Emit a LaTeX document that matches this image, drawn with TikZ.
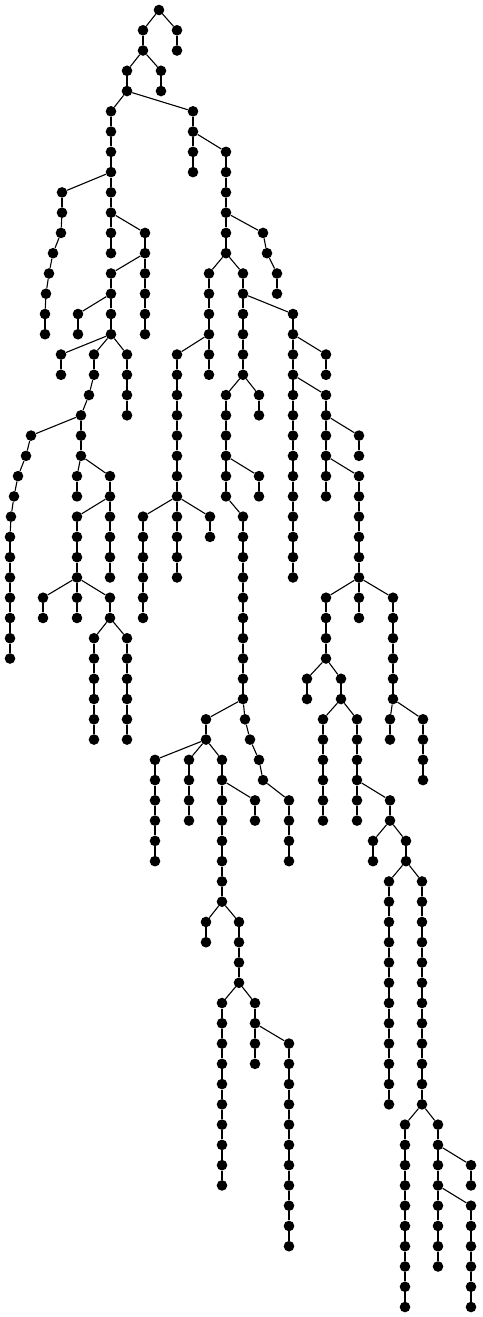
\documentclass[tikz,border=0pt]{standalone}
\usepackage{tikz}
\tikzstyle{vertex} = [circle, fill=black, inner sep=0pt, minimum size=10.6pt]
\tikzstyle{edge} = [line width=1.1pt]

\begin{document}
\begin{tikzpicture}[x=1pt,y=-1pt]
  \useasboundingbox (0,0) rectangle (482,1317);
  \node (v0x159) [vertex] at (159,10) {};
  % level / {column/parent column, ...}
  \foreach \l/\kids in {
    1/{143/159,177/159},
    2/{143/143,177/177},
    3/{127/143,161/143},
    4/{127/127,161/161},
    5/{111/127,193/127},
    6/{111/111,193/193},
    7/{111/111,193/193,226/193},
    8/{111/111,193/193,226/226},
    9/{62/111,111/111,226/226},
    10/{62/62,111/111,226/226},
    11/{61/62,111/111,145/111,226/226,263/226},
    12/{53/61,111/111,145/145,226/226,267/263},
    13/{49/53,111/145,145/145,209/226,243/226,277/267},
    14/{46/49,111/111,145/145,209/209,243/243,277/277},
    15/{45/46,78/111,111/111,145/145,209/209,243/243,293/243},
    16/{45/45,78/78,111/111,145/145,209/209,243/243,293/293},
    17/{61/111,94/111,127/111,177/209,209/209,243/243,293/293,326/293},
    18/{61/61,94/94,127/127,177/177,209/209,243/243,293/293,326/326},
    19/{89/94,127/127,177/177,226/243,259/243,293/293,326/293},
    20/{81/89,127/127,177/177,226/226,259/259,293/293,326/326},
    21/{31/81,81/81,177/177,226/226,293/293,326/326,359/326},
    22/{26/31,81/81,177/177,226/226,293/293,326/326,359/359},
    23/{18/26,77/81,110/81,177/177,226/226,259/226,293/293,326/326,359/326},
    24/{14/18,77/77,110/110,177/177,226/226,259/259,293/293,326/326,359/359},
    25/{11/14,77/110,110/110,143/177,177/177,210/177,243/226,293/293,359/359},
    26/{10/11,77/77,110/110,143/143,177/177,210/210,243/243,293/293,359/359},
    27/{10/10,77/77,110/110,143/143,177/177,243/243,293/293,359/359},
    28/{10/10,77/77,110/110,143/143,177/177,243/243,293/293,359/359},
    29/{10/10,43/77,77/77,110/77,143/143,243/243,326/359,359/359,393/359},
    30/{10/10,43/43,77/77,110/110,143/143,243/243,326/326,359/359,393/393},
    31/{10/10,94/110,127/110,243/243,326/326,393/393},
    32/{10/10,94/94,127/127,243/243,326/326,393/393},
    33/{94/94,127/127,243/243,307/326,341/326,393/393},
    34/{94/94,127/127,243/243,307/307,341/341,393/393},
    35/{94/94,127/127,206/243,245/243,323/341,357/341,390/393,423/393},
    36/{94/94,127/127,206/206,250/245,323/323,357/357,390/390,423/423},
    37/{155/206,189/206,222/206,259/250,323/323,357/357,423/423},
    38/{155/155,189/189,222/222,263/259,323/323,357/357,423/423},
    39/{155/155,189/189,222/222,255/222,289/263,323/323,357/357,390/357},
    40/{155/155,189/189,222/222,255/255,289/289,323/323,357/357,390/390},
    41/{155/155,222/222,289/289,373/390,406/390},
    42/{155/155,222/222,289/289,373/373,406/406},
    43/{222/222,389/406,422/406},
    44/{222/222,389/389,422/422},
    45/{206/222,239/222,389/389,422/422},
    46/{206/206,239/239,389/389,422/422},
    47/{239/239,389/389,422/422},
    48/{239/239,389/389,422/422},
    49/{222/239,255/239,389/389,422/422},
    50/{222/222,255/255,389/389,422/422},
    51/{222/222,255/255,289/255,389/389,422/422},
    52/{222/222,255/255,289/289,389/389,422/422},
    53/{222/222,289/289,389/389,422/422},
    54/{222/222,289/289,389/389,422/422},
    55/{222/222,289/289,405/422,438/422},
    56/{222/222,289/289,405/405,438/438},
    57/{222/222,289/289,405/405,438/438,471/438},
    58/{222/222,289/289,405/405,438/438,471/471},
    59/{289/289,405/405,438/438,471/438},
    60/{289/289,405/405,438/438,471/471},
    61/{289/289,405/405,438/438,471/471},
    62/{405/405,438/438,471/471},
    63/{405/405,471/471},
    64/{405/405,471/471}} {
    \pgfmathtruncatemacro{\up}{\l-1}
    \foreach \x/\p in \kids {
      \node (v\l x\x) [vertex] at (\x,{10+20.266*\l}) {};
      \draw[edge] (v\up x\p) -- (v\l x\x);
    }
  }
\end{tikzpicture}
\end{document}
